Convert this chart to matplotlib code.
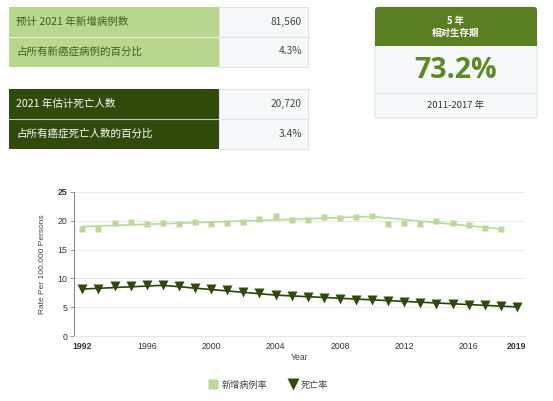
import matplotlib
matplotlib.use("Agg")
import matplotlib.pyplot as plt
from matplotlib.patches import Rectangle, FancyBboxPatch
from matplotlib.lines import Line2D

# ---------------- data ----------------
years = list(range(1992, 2020))
incidence_years = list(range(1992, 2019))
incidence = [18.5, 18.5, 19.6, 19.8, 19.5, 19.6, 19.4, 19.8, 19.5, 19.7,
             19.8, 20.3, 20.8, 20.2, 20.2, 20.6, 20.4, 20.7, 20.9, 19.5,
             19.7, 19.5, 20.0, 19.7, 19.3, 18.8, 18.5]
incidence_trend_years = [1992, 2010, 2018]
incidence_trend = [19.0, 20.75, 18.6]

mortality = [8.2, 8.2, 8.6, 8.7, 8.8, 8.9, 8.6, 8.4, 8.2, 7.9,
             7.7, 7.4, 7.1, 7.0, 6.8, 6.6, 6.4, 6.3, 6.2, 6.0,
             5.9, 5.7, 5.6, 5.5, 5.4, 5.3, 5.2, 5.0]
mortality_trend_years = [1992, 1997, 2004, 2019]
mortality_trend = [8.15, 8.8, 7.1, 5.05]

xticks = [1992, 1996, 2000, 2004, 2008, 2012, 2016, 2019]
yticks = [0, 5, 10, 15, 20, 25]

table1_labels = ["预计 2021 年新增病例数", "占所有新癌症病例的百分比"]
table1_values = ["81,560", "4.3%"]
table2_labels = ["2021 年估计死亡人数", "占所有癌症死亡人数的百分比"]
table2_values = ["20,720", "3.4%"]
survival_header = "5 年\n相对生存期"
survival_value = "73.2%"
survival_period = "2011-2017 年"
legend_labels = ["新增病例率", "死亡率"]
xlabel = "Year"
ylabel = "Rate Per 100,000 Persons"

# ---------------- style ----------------
LIGHT = "#b9d78f"
LIGHT_LINE = "#bcd89a"
DARK = "#2f4a0b"
DARK_LINE = "#2c4010"
HEADER = "#5a7e22"
BIG = "#5a8a24"
CELL = "#f7f8f9"
BORDER = "#dfe3e6"
CJK = ["Noto Sans CJK SC", "DejaVu Sans"]
SANS = ["Liberation Sans", "DejaVu Sans"]

W, H = 553, 401
fig = plt.figure(figsize=(W / 100, H / 100), dpi=100)
fig.patch.set_facecolor("white")

# overlay in pixel coordinates for the info panels
ov = fig.add_axes([0, 0, 1, 1])
ov.set_xlim(0, W)
ov.set_ylim(H, 0)
ov.axis("off")


def draw_table(top, labels, values, label_bg, label_fg):
    row_h = 30
    for i, (lab, val) in enumerate(zip(labels, values)):
        y = top + i * row_h
        ov.add_patch(Rectangle((9, y), 210, row_h, facecolor=label_bg, edgecolor="none"))
        ov.add_patch(Rectangle((219, y), 89, row_h, facecolor=CELL, edgecolor=BORDER, lw=0.8))
        ov.text(16, y + row_h / 2, lab, family=CJK, fontsize=7.6, color=label_fg,
                va="center", ha="left")
        ov.text(302, y + row_h / 2, val, family=CJK, fontsize=7.3, color="#444444",
                va="center", ha="right")
    ov.plot([9, 219], [top + row_h, top + row_h], color="white", lw=0.8, alpha=0.7)


draw_table(6.5, table1_labels, table1_values, LIGHT, "#3f5e1c")
draw_table(89, table2_labels, table2_values, DARK, "white")

# survival box
ov.add_patch(FancyBboxPatch((375, 7), 162, 111, boxstyle="round,pad=0,rounding_size=3",
                            facecolor=CELL, edgecolor=BORDER, lw=0.8))
ov.add_patch(FancyBboxPatch((375, 7), 162, 39, boxstyle="round,pad=0,rounding_size=3",
                            facecolor=HEADER, edgecolor="none"))
ov.add_patch(Rectangle((375, 40), 162, 6, facecolor=HEADER, edgecolor="none"))
ov.plot([375, 537], [93, 93], color=BORDER, lw=0.8)
ov.text(456, 27, survival_header, family=CJK, fontsize=6.8, color="white",
        fontweight="bold", ha="center", va="center", linespacing=1.3)
ov.text(456, 71, survival_value, family=["Open Sans", "DejaVu Sans"], fontsize=20.5,
        color=BIG, fontweight="bold", ha="center", va="center")
ov.text(456, 105.5, survival_period, family=CJK, fontsize=6.8, color="#333333",
        ha="center", va="center")

# ---------------- chart ----------------
ax = fig.add_axes([74.3 / W, 1 - 336 / H, (525 - 74.3) / W, (336 - 192) / H])
ax.set_xlim(1991.5, 2019.5)
ax.set_ylim(0, 25)
ax.set_yticks(yticks)
ax.set_xticks(xticks)
ax.set_xticklabels([str(t) for t in xticks])
for s in ["top", "right"]:
    ax.spines[s].set_visible(False)
ax.spines["left"].set_color("#888888")
ax.spines["left"].set_linewidth(0.8)
ax.spines["bottom"].set_color("#e6e6e6")
ax.spines["bottom"].set_linewidth(0.8)
ax.grid(axis="y", color="#e9e9e9", lw=0.8)
ax.set_axisbelow(True)
ax.tick_params(axis="x", length=0, pad=4, labelsize=6.3, labelcolor="#333333")
ax.tick_params(axis="y", length=3, width=0.6, color="#888888", pad=2,
               labelsize=6.3, labelcolor="#333333")
for lbl in ax.get_xticklabels() + ax.get_yticklabels():
    lbl.set_family(SANS)
xl = ax.get_xticklabels()
xl[0].set_fontweight("bold")
xl[-1].set_fontweight("bold")
ax.get_yticklabels()[-1].set_fontweight("bold")

ax.plot(incidence_trend_years, incidence_trend, color=LIGHT_LINE, lw=1.2, zorder=2)
ax.plot(incidence_years, incidence, ls="none", marker="s", ms=5, color=LIGHT_LINE,
        mec="none", zorder=3)
ax.plot(mortality_trend_years, mortality_trend, color=DARK_LINE, lw=1.2, zorder=2)
ax.plot(years, mortality, ls="none", marker="v", ms=6.5, color=DARK, mec="none", zorder=3)

ax.set_xlabel(xlabel, family=SANS, fontsize=6.2, color="#444444", labelpad=2)
ax.set_ylabel(ylabel, family=SANS, fontsize=6.0, color="#444444", labelpad=9)

# legend
handles = [Line2D([], [], ls="none", marker="s", ms=6.5, color=LIGHT_LINE, mec="none"),
           Line2D([], [], ls="none", marker="v", ms=9, color=DARK, mec="none")]
leg = fig.legend(handles, legend_labels, loc="center", bbox_to_anchor=(268 / W, 1 - 385 / H),
                 ncol=2, frameon=False, prop={"family": CJK, "size": 6.6},
                 handletextpad=0.3, columnspacing=2.2, handlelength=1.2)
for t in leg.get_texts():
    t.set_color("#444444")

fig.savefig("out.png", dpi=100, facecolor="white")
